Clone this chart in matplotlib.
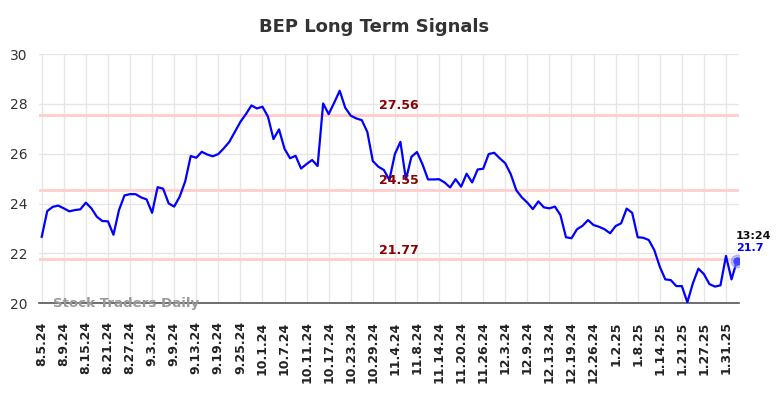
import matplotlib.pyplot as plt

# closing prices, one per trading day (8.5.24 .. 2.4.25)
prices = [
    22.67, 23.70, 23.87, 23.92, 23.81, 23.69, 23.74, 23.77, 24.04, 23.81,
    23.47, 23.30, 23.29, 22.75, 23.74, 24.33, 24.38, 24.38, 24.25, 24.17,
    23.63, 24.66, 24.60, 24.01, 23.88, 24.28, 24.89, 25.91, 25.84, 26.08,
    25.97, 25.90, 25.99, 26.22, 26.48, 26.88, 27.28, 27.59, 27.94, 27.82,
    27.89, 27.49, 26.59, 26.98, 26.20, 25.82, 25.92, 25.41, 25.59, 25.75,
    25.51, 28.02, 27.59, 28.05, 28.53, 27.85, 27.53, 27.42, 27.35, 26.88,
    25.71, 25.48, 25.35, 24.95, 25.99, 26.48, 24.97, 25.88, 26.07, 25.58,
    24.97, 24.97, 24.98, 24.85, 24.65, 24.98, 24.68, 25.20, 24.85, 25.37,
    25.40, 25.99, 26.04, 25.82, 25.62, 25.18, 24.54, 24.25, 24.04, 23.78,
    24.09, 23.85, 23.81, 23.88, 23.54, 22.65, 22.61, 22.97, 23.11, 23.34,
    23.14, 23.07, 22.97, 22.81, 23.10, 23.21, 23.80, 23.63, 22.65, 22.63,
    22.54, 22.14, 21.47, 20.96, 20.93, 20.69, 20.69, 20.04, 20.80, 21.39,
    21.17, 20.77, 20.67, 20.72, 21.90, 20.96, 21.71,
]

tick_labels = [
    "8.5.24", "8.9.24", "8.15.24", "8.21.24", "8.27.24", "9.3.24", "9.9.24",
    "9.13.24", "9.19.24", "9.25.24", "10.1.24", "10.7.24", "10.11.24",
    "10.17.24", "10.23.24", "10.29.24", "11.4.24", "11.8.24", "11.14.24",
    "11.20.24", "11.26.24", "12.3.24", "12.9.24", "12.13.24", "12.19.24",
    "12.26.24", "1.2.25", "1.8.25", "1.14.25", "1.21.25", "1.27.25", "1.31.25",
]

levels = [27.56, 24.55, 21.77]
last_time = "13:24"

x = list(range(len(prices)))
tick_pos = [i * 4 for i in range(len(tick_labels))]

fig = plt.figure(figsize=(7.84, 3.98), dpi=100)
ax = fig.add_axes([0.0497, 0.238, 0.8932, 0.626])

for lv in levels:
    ax.axhline(lv, color="#ffcccc", lw=2, zorder=1)
    ax.text(64.7, lv + 0.1, f"{lv:.2f}", color="#8b0000", fontsize=9,
            fontweight="bold", ha="center", va="bottom", zorder=4)

ax.plot(x, prices, color="#0000ff", lw=1.6, zorder=3)
ax.plot(x[-1], prices[-1], "o", color="#0000ff", ms=5, zorder=4)
ax.plot(x[-1], prices[-1], "o", color="#8888ff", ms=9, alpha=0.5, zorder=4)

ax.text(x[-1] - 0.2, prices[-1] + 1.0, last_time, fontsize=8, fontweight="bold",
        color="#111111", ha="left", va="center")
ax.text(x[-1] - 0.2, prices[-1] + 0.5, f"{prices[-1]:.1f}", fontsize=8,
        fontweight="bold", color="#0000ff", ha="left", va="center")

ax.text(2, 20.0, "Stock Traders Daily", fontsize=9.6, fontweight="bold",
        color="#999999", ha="left", va="center", zorder=5)

ax.set_xlim(-0.5, 126.4)
ax.set_ylim(20, 30)
ax.set_yticks([20, 22, 24, 26, 28, 30])
ax.set_xticks(tick_pos)
ax.set_xticklabels(tick_labels, rotation=90, fontsize=9, color="#222222",
                   fontweight="bold")
ax.tick_params(axis="y", labelsize=10, colors="#333333", length=0, pad=8)
ax.tick_params(axis="x", length=0, pad=13)

ax.grid(True, color="#e6e6e6", lw=1)
ax.set_axisbelow(True)
for s in ["top", "right", "left"]:
    ax.spines[s].set_visible(False)
ax.spines["bottom"].set_color("#555555")
ax.spines["bottom"].set_linewidth(1.2)

fig.text(374 / 784, 1 - 27 / 398, "BEP Long Term Signals", fontsize=13,
         fontweight="bold", color="#333333", ha="center", va="center")

fig.savefig("out.png", dpi=100)
